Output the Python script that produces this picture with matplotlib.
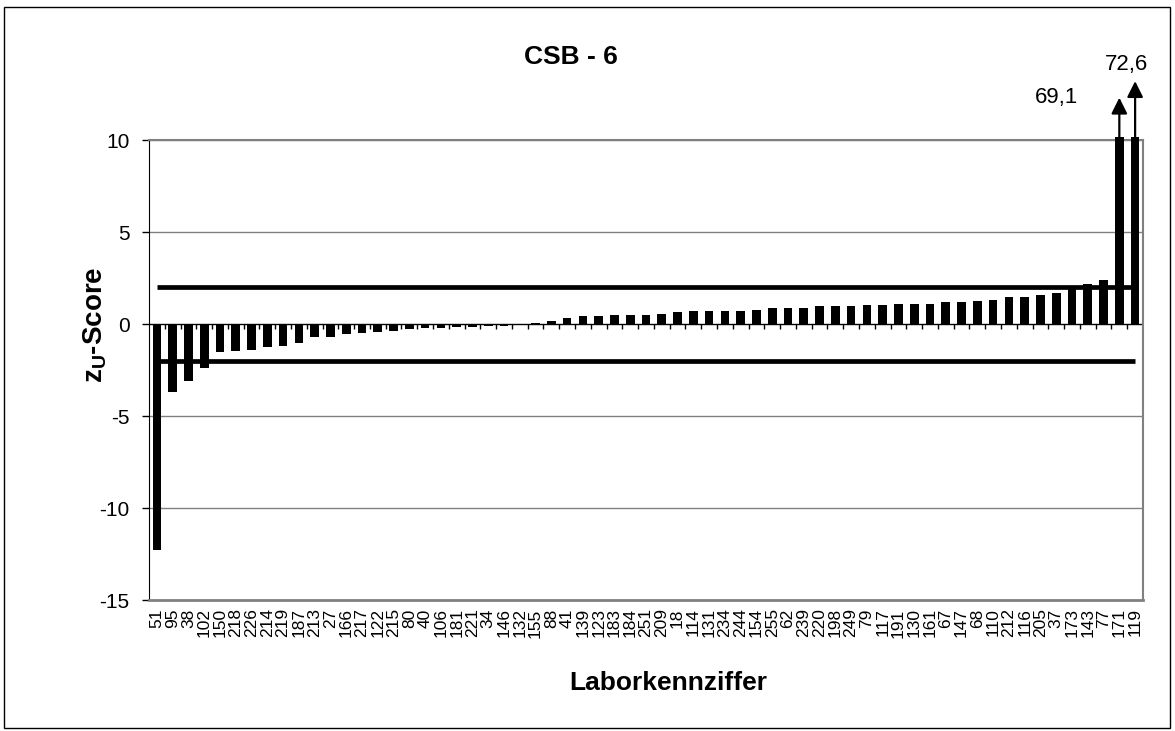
import matplotlib
matplotlib.use('Agg')
import matplotlib.pyplot as plt
from matplotlib.patches import Rectangle
import numpy as np

plt.rcParams['font.family'] = ['Liberation Sans', 'DejaVu Sans']
plt.rcParams['axes.unicode_minus'] = False

TITLE = 'CSB - 6'
XLABEL = 'Laborkennziffer'
LABS = ['51', '95', '38', '102', '150', '218', '226', '214', '219', '187',
        '213', '27', '166', '217', '122', '215', '80', '40', '106', '181',
        '221', '34', '146', '132', '155', '88', '41', '139', '123', '183',
        '184', '251', '209', '18', '114', '131', '234', '244', '154', '255',
        '62', '239', '220', '198', '249', '79', '117', '191', '130', '161',
        '67', '147', '68', '110', '212', '116', '205', '37', '173', '143',
        '77', '171', '119']
ZU = [-12.3, -3.7, -3.1, -2.4, -1.5, -1.45, -1.4, -1.25, -1.2, -1.05,
      -0.72, -0.7, -0.55, -0.5, -0.45, -0.36, -0.29, -0.24, -0.22, -0.19,
      -0.16, -0.13, -0.11, -0.05, 0.08, 0.15, 0.3, 0.43, 0.45, 0.5,
      0.51, 0.51, 0.56, 0.65, 0.72, 0.72, 0.72, 0.72, 0.76, 0.89,
      0.89, 0.89, 0.96, 0.96, 0.96, 1.03, 1.03, 1.08, 1.1, 1.1,
      1.2, 1.2, 1.25, 1.3, 1.49, 1.49, 1.6, 1.68, 1.93, 2.2,
      2.41, 69.1, 72.6]
LIMIT = 2.0
YMIN, YMAX = -15, 10
YTICKS = [-15, -10, -5, 0, 5, 10]

W, H = 1175, 731
fig = plt.figure(figsize=(W / 100, H / 100), dpi=100)
fig.add_artist(Rectangle((4 / W, 3 / H), 1166 / W, 721 / H, transform=fig.transFigure,
                         fill=False, lw=1.0, ec='black'))
ax = fig.add_axes([149 / W, 1 - 600 / H, 994 / W, 460 / H])

x = np.arange(len(LABS))
vals = np.array(ZU)
ax.bar(x, np.clip(vals, YMIN, YMAX + 0.15), 0.55, color='black', zorder=3, clip_on=False)

# limit lines +/- 2
ax.plot(x, [LIMIT] * len(x), color='black', lw=3.4, zorder=4, solid_capstyle='butt')
ax.plot(x, [-LIMIT] * len(x), color='black', lw=3.4, zorder=4, solid_capstyle='butt')

# grid + zero axis with small ticks between categories
for yv in YTICKS:
    if yv not in (0, YMIN):
        ax.axhline(yv, color='#808080', lw=1.0, zorder=1)
ax.axhline(0, color='black', lw=1.0, zorder=2)
ax.vlines(x[:-1] + 0.5, -0.28, 0, color='black', lw=1.0, zorder=2)

ax.set_xlim(-0.5, len(x) - 0.5)
ax.set_ylim(YMIN, YMAX)
ax.set_yticks(YTICKS)
ax.tick_params(axis='y', labelsize=15, length=5, width=1, pad=9, direction='out')
ax.set_xticks(x)
ax.set_xticklabels(LABS, rotation=90, fontsize=12.5)
ax.tick_params(axis='x', length=0, pad=6)

for s in ('top', 'right', 'bottom'):
    ax.spines[s].set_color('#808080')
ax.spines['bottom'].set_linewidth(2)
ax.spines['top'].set_linewidth(1.5)
ax.spines['right'].set_linewidth(1.5)
ax.spines['left'].set_color('black')

# arrows for off-scale values
offscale = [(i, v) for i, v in enumerate(ZU) if v > YMAX]
arrow_len = [2.3, 3.2]
txt_off = [(-45, 0), (-6, 12)]
for k, (i, v) in enumerate(offscale):
    tip = YMAX + arrow_len[k]
    ax.annotate('', xy=(i, tip), xytext=(i, YMAX), annotation_clip=False,
                arrowprops=dict(arrowstyle='-|>', color='black', lw=1.6,
                                mutation_scale=24, shrinkA=0, shrinkB=0))
    ax.annotate(f'{v:.1f}'.replace('.', ','), xy=(i, tip), xytext=txt_off[k],
                textcoords='offset points', ha='center', va='center',
                fontsize=16, annotation_clip=False)

fig.text(571 / W, 1 - 57 / H, TITLE, ha='center', va='center', fontsize=19, fontweight='bold')
fig.text(668 / W, 1 - 683 / H, XLABEL, ha='center', va='center', fontsize=19, fontweight='bold')
fig.text(95 / W, 1 - 325 / H, r'z$_\mathregular{U}$-Score', ha='center', va='center',
         rotation=90, fontsize=20, fontweight='bold')

fig.savefig('out.png', dpi=100)
